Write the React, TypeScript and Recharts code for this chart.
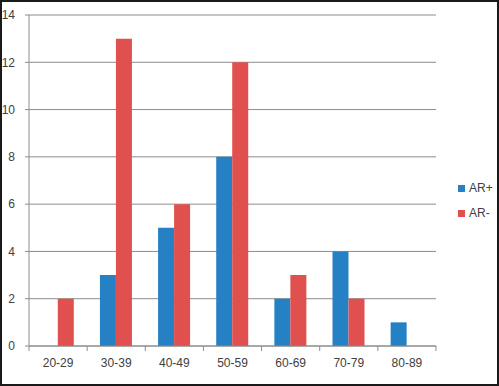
import React from 'react';
import { BarChart, Bar, XAxis, YAxis, CartesianGrid, Legend } from 'recharts';

const ageGroups = ['20-29', '30-39', '40-49', '50-59', '60-69', '70-79', '80-89'];
const arPlus = [0, 3, 5, 8, 2, 4, 1];
const arMinus = [2, 13, 6, 12, 3, 2, 0];
const yTicks = [0, 2, 4, 6, 8, 10, 12, 14];

const data = ageGroups.map((group, i) => ({
  group,
  arPlus: arPlus[i],
  arMinus: arMinus[i],
}));

const BLUE = '#2581C4';
const RED = '#E0504E';
const AXIS = '#8c8c8c';
const FONT = '"Liberation Sans", Arial, sans-serif';

// Excel-style category ticks sit on the band boundaries, not the centres
const CategoryTick = (props: any) => {
  const { x, y, payload, index, visibleTicksCount } = props;
  const band = 407 / ageGroups.length;
  const half = band / 2;
  const isLast = index === (visibleTicksCount ?? ageGroups.length) - 1;
  return (
    <g>
      <line x1={x - half} x2={x - half} y1={y - 8} y2={y - 3} stroke={AXIS} />
      {isLast && <line x1={x + half} x2={x + half} y1={y - 8} y2={y - 3} stroke={AXIS} />}
      <text x={x} y={y + 13} textAnchor="middle" fill="#404040" fontSize={12} fontFamily={FONT}>
        {payload.value}
      </text>
    </g>
  );
};

const App: React.FC = () => {
  return (
    <div
      style={{
        position: 'absolute',
        left: 0,
        top: 0,
        width: 499,
        height: 386,
        background: 'white',
      }}
    >
      <BarChart
        width={499}
        height={386}
        data={data}
        margin={{ top: 15, right: 10, left: 0, bottom: 0 }}
        barCategoryGap="22%"
        barGap={0}
      >
        <CartesianGrid vertical={false} stroke={AXIS} strokeWidth={1} />
        <XAxis
          dataKey="group"
          height={40}
          axisLine={{ stroke: AXIS }}
          tickLine={false}
          tick={<CategoryTick />}
          interval={0}
        />
        <YAxis
          width={29}
          domain={[0, 14]}
          ticks={yTicks}
          axisLine={{ stroke: AXIS }}
          tickLine={{ stroke: AXIS }}
          tickSize={4}
          tickMargin={10}
          tick={{ fill: '#404040', fontSize: 12, fontFamily: FONT }}
          interval={0}
        />
        <Legend
          layout="vertical"
          align="right"
          verticalAlign="middle"
          iconType="square"
          iconSize={7}
          wrapperStyle={{
            fontSize: 12,
            fontFamily: FONT,
            lineHeight: '25px',
            width: 53,
            left: 458,
            top: 176,
          }}
          formatter={(value: string) => <span style={{ color: '#404040' }}>{value}</span>}
        />
        <Bar dataKey="arPlus" name="AR+" fill={BLUE} isAnimationActive={false} />
        <Bar dataKey="arMinus" name="AR-" fill={RED} isAnimationActive={false} />
      </BarChart>
      <div
        style={{
          position: 'absolute',
          left: 0,
          top: 0,
          width: 499,
          height: 386,
          boxSizing: 'border-box',
          border: '2px solid #1a1a1a',
          pointerEvents: 'none',
        }}
      />
    </div>
  );
};

export default App;
